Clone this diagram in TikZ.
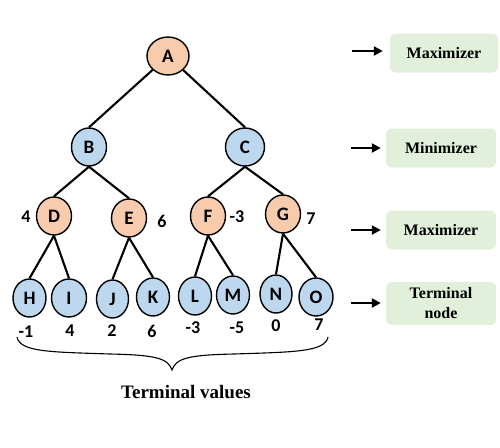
\documentclass[tikz,border=0pt]{standalone}
\usepackage{fontspec}
\setmainfont{Liberation Serif}
\newfontfamily\lettersfont{Carlito}
\usetikzlibrary{shapes.geometric,arrows.meta}
\definecolor{maxfill}{HTML}{F8CBAD}
\definecolor{minfill}{HTML}{BDD7EE}
\definecolor{boxfill}{HTML}{E2EFDA}
\begin{document}
\begin{tikzpicture}[x=1pt,y=-1pt,
  treenode/.style={ellipse,draw=black,line width=1.4pt,inner sep=0pt,
    minimum width=35pt,minimum height=38pt,
    font=\lettersfont\fontsize{19}{19}\selectfont\bfseries},
  maxnode/.style={treenode,fill=maxfill},
  minnode/.style={treenode,fill=minfill},
  vallabel/.style={font=\lettersfont\fontsize{18}{18}\selectfont\bfseries,inner sep=0pt},
  edge/.style={line width=2.1pt,black},
  rolebox/.style={fill=boxfill,rounded corners=6pt,inner sep=0pt,
    font=\fontsize{16}{20}\selectfont\bfseries,align=center},
  rolearrow/.style={line width=2.4pt,-{Triangle[length=9pt,width=9pt]}}
]
\useasboundingbox (0,0) rectangle (500,447);
% tree nodes
\node[maxnode,minimum width=42pt] (A) at (168,56) {A};
\node[minnode] (B) at (89,147) {B};
\node[minnode,minimum width=39pt] (C) at (245,147) {C};
\node[maxnode] (D) at (54,216) {D};
\node[maxnode] (E) at (129,218) {E};
\node[maxnode] (F) at (208,216) {F};
\node[maxnode] (G) at (283,214) {G};
\node[minnode,minimum width=33pt] (H) at (29.5,298) {H};
\node[minnode] (I) at (69,298) {I};
\node[minnode,minimum width=32pt] (J) at (112.5,299) {J};
\node[minnode,minimum width=33pt] (K) at (153,297) {K};
\node[minnode,minimum width=33pt] (L) at (195,296) {L};
\node[minnode,minimum width=33pt] (M) at (233,295) {M};
\node[minnode,minimum width=32pt] (N) at (276,294) {N};
\node[minnode,minimum width=34pt] (O) at (316,297) {O};
% edges
\draw[edge] (A) -- (B.north);
\draw[edge] (A) -- (C.north);
\draw[edge] (B.south) -- (D.north);
\draw[edge] (B.south) -- (E.north);
\draw[edge] (C.south) -- (F.north);
\draw[edge] (C.south) -- (G.north);
\draw[edge] (D.south) -- (H.north);
\draw[edge] (D.south) -- (I.north);
\draw[edge] (E.south) -- (J.north);
\draw[edge] (E.south) -- (K.north);
\draw[edge] (F.south) -- (L.north);
\draw[edge] (F.south) -- (M.north);
\draw[edge] (G.south) -- (N.north);
\draw[edge] (G.south) -- (O.north);
% internal values
\node[vallabel] (vD) at (26,217) {4};
\node[vallabel] (vE) at (162,221) {6};
\node[vallabel] (vF) at (237,217) {-3};
\node[vallabel] (vG) at (311,219) {7};
% terminal values
\node[vallabel] (vH) at (26,332) {-1};
\node[vallabel] (vI) at (70,331) {4};
\node[vallabel] (vJ) at (112,331) {2};
\node[vallabel] (vK) at (152,331) {6};
\node[vallabel] (vL) at (193,328) {-3};
\node[vallabel] (vM) at (237,328) {-5};
\node[vallabel] (vN) at (276,326) {0};
\node[vallabel] (vO) at (319,325) {7};
% brace
\coordinate (bl) at (17,337);
\coordinate (bt) at (172,370);
\coordinate (br) at (328,337);
\draw[line width=1.1pt] (bl) .. controls (20,352) and (50,352) .. (110,354)
  .. controls (155,355) and (168,358) .. (bt)
  .. controls (176,358) and (189,355) .. (234,354)
  .. controls (294,352) and (325,352) .. (br);
\node[font=\fontsize{19}{19}\selectfont\bfseries] (tv) at (186,392) {Terminal values};
% role boxes
\node[rolebox,minimum width=108pt,minimum height=39pt] (r1) at (444,53) {Maximizer};
\node[rolebox,minimum width=110pt,minimum height=39pt] (r2) at (441,148) {Minimizer};
\node[rolebox,minimum width=110pt,minimum height=39pt] (r3) at (441,230) {Maximizer};
\node[rolebox,minimum width=110pt,minimum height=43pt] (r4) at (441,303.5) {Terminal\\node};
\coordinate (a1) at (352,51);
\coordinate (a2) at (351,148);
\coordinate (a3) at (351,230);
\coordinate (a4) at (351,303);
\draw[rolearrow] (a1) -- ([xshift=-7pt]a1 -| r1.west);
\draw[rolearrow] (a2) -- ([xshift=-5pt]a2 -| r2.west);
\draw[rolearrow] (a3) -- ([xshift=-5pt]a3 -| r3.west);
\draw[rolearrow] (a4) -- ([xshift=-5pt]a4 -| r4.west);
\end{tikzpicture}
\end{document}
